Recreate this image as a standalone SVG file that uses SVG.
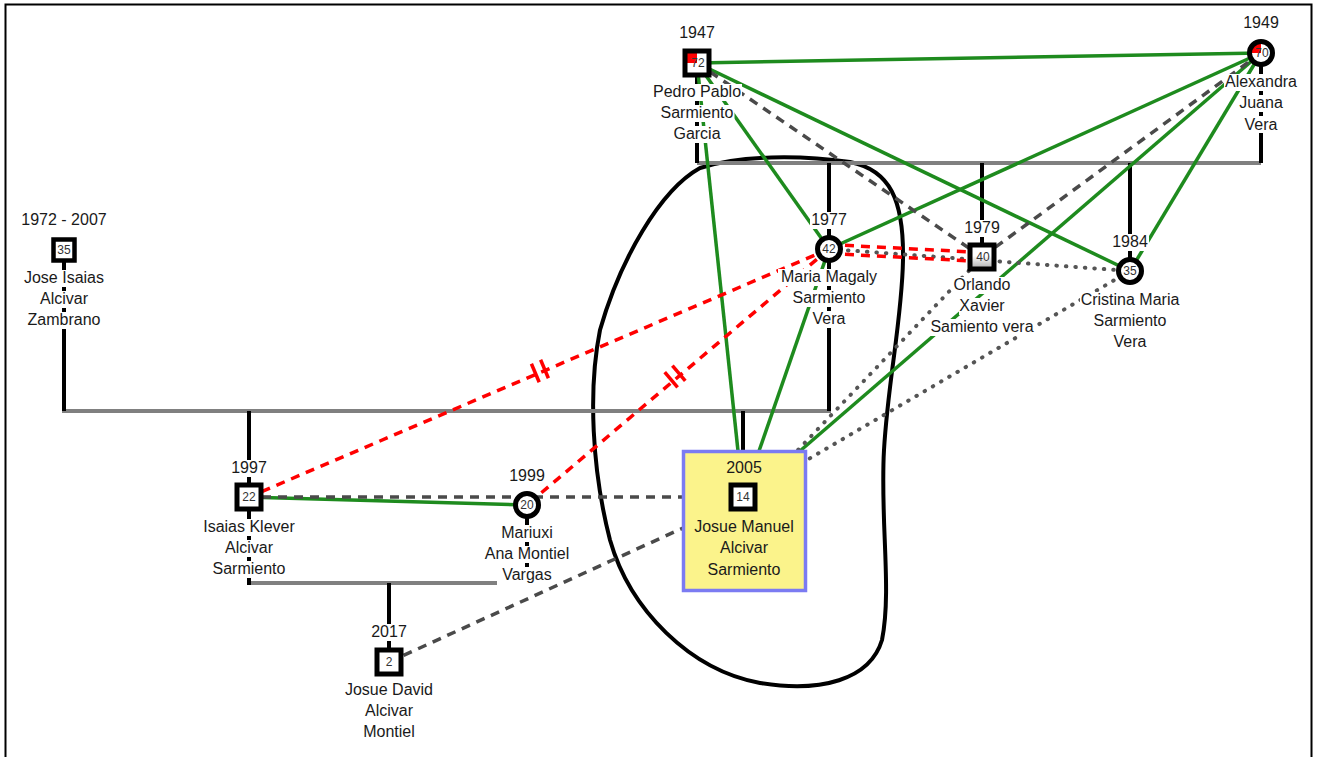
<svg xmlns="http://www.w3.org/2000/svg" width="1317" height="757" viewBox="0 0 1317 757">
<style>
text{font-family:"Liberation Sans",Arial,sans-serif;font-size:16px;fill:#1a1a1a;text-anchor:middle}
.num{font-size:12px;fill:#333}
.fam{stroke:#808080;stroke-width:4;fill:none}
.vl{stroke:#000;stroke-width:4;fill:none}
.g{stroke:#1e8b1e;stroke-width:3.5;fill:none}
.dash{stroke:#4a4a4a;stroke-width:3.5;stroke-dasharray:9 7;fill:none}
.dot{stroke:#555;stroke-width:4;stroke-dasharray:0.5 9;stroke-linecap:round;fill:none}
.red{stroke:#ff0000;stroke-width:3.5;stroke-dasharray:9 7;fill:none}
.brk{stroke:#ff0000;stroke-width:3.5;fill:none}
.bg{fill:#fff}
.sq{stroke:#000;stroke-width:5}
.ci{stroke:#000;stroke-width:5}
</style>
<defs>
<linearGradient id="grayfill" x1="0" y1="0" x2="0" y2="1">
<stop offset="0" stop-color="#fff"/><stop offset="0.45" stop-color="#fff"/><stop offset="1" stop-color="#aaa"/>
</linearGradient>
</defs>
<rect x="5.5" y="4.5" width="1306" height="800" fill="#fff" stroke="#000" stroke-width="2"/>

<path d="M700,168 C660,190 620,260 600,330 C588,390 592,470 610,540 C630,610 690,670 760,683 C820,693 870,680 882,640 C892,590 880,520 884,450 C888,380 902,320 903,260 C904,200 890,170 850,162 C800,155 740,155 700,168 Z" fill="none" stroke="#000" stroke-width="4"/>

<g id="connectors">
<line class="fam" x1="697" y1="163" x2="1261" y2="163"/>
<line class="vl" x1="697" y1="63" x2="697" y2="163"/>
<line class="vl" x1="1261" y1="53" x2="1261" y2="163"/>
<line class="vl" x1="829" y1="163" x2="829" y2="249"/>
<line class="vl" x1="982" y1="163" x2="982" y2="257"/>
<line class="vl" x1="1130" y1="163" x2="1130" y2="271"/>
<line class="fam" x1="62" y1="411" x2="831" y2="411"/>
<line class="vl" x1="64" y1="250" x2="64" y2="411"/>
<line class="vl" x1="829" y1="249" x2="829" y2="411"/>
<line class="vl" x1="249" y1="411" x2="249" y2="497"/>
<line class="vl" x1="743" y1="411" x2="743" y2="451"/>
<line class="fam" x1="247" y1="583" x2="497" y2="583"/>
<line class="vl" x1="249" y1="497" x2="249" y2="585"/>
<line class="vl" x1="527" y1="505" x2="527" y2="572"/>
<line class="vl" x1="389" y1="583" x2="389" y2="662"/>

<line class="g" x1="697" y1="63" x2="1261" y2="53"/>
<line class="g" x1="697" y1="63" x2="1130" y2="271"/>
<line class="g" x1="697" y1="63" x2="829" y2="249"/>
<line class="g" x1="697" y1="63" x2="738" y2="451"/>
<line class="g" x1="1261" y1="53" x2="829" y2="249"/>
<line class="g" x1="1261" y1="53" x2="800" y2="451"/>
<line class="g" x1="1261" y1="53" x2="1130" y2="271"/>
<line class="g" x1="829" y1="249" x2="759" y2="451"/>
<line class="g" x1="249" y1="497" x2="527" y2="505"/>

<line class="dash" x1="697" y1="63" x2="982" y2="257"/>
<line class="dash" x1="1261" y1="53" x2="982" y2="257"/>
<line class="dash" x1="262" y1="497" x2="683" y2="497"/>
<line class="dash" x1="389" y1="662" x2="683" y2="528"/>

<line class="dot" x1="829" y1="249" x2="1130" y2="271"/>
<line class="dot" x1="982" y1="257" x2="797" y2="451"/>
<line class="dot" x1="1130" y1="271" x2="807" y2="460"/>

<line class="red" x1="829" y1="244.5" x2="982" y2="252.5"/>
<line class="red" x1="829" y1="253.5" x2="982" y2="261.5"/>
<line class="red" x1="829" y1="249" x2="249" y2="497"/>
<line class="red" x1="829" y1="249" x2="527" y2="505"/>
<line class="brk" x1="531.4" y1="363.8" x2="539.2" y2="382.2"/>
<line class="brk" x1="540.6" y1="359.8" x2="548.4" y2="378.2"/>
<line class="brk" x1="664.7" y1="372.1" x2="677.6" y2="387.3"/>
<line class="brk" x1="672.4" y1="365.6" x2="685.3" y2="380.8"/>
</g>

<g id="n1947">
<rect class="bg" x="678" y="25" width="38" height="17"/>
<rect class="bg" x="652" y="84" width="90" height="17"/>
<rect class="bg" x="659.5" y="105" width="75" height="17"/>
<rect class="bg" x="672" y="126" width="50" height="17"/>
<text x="697" y="38">1947</text>
<rect x="685" y="51" width="24" height="24" fill="#fff"/>
<rect x="685" y="51" width="12" height="12" fill="#ff0000"/>
<rect class="sq" x="685" y="51" width="24" height="24" style="fill:none"/>
<text class="num" x="698" y="67">72</text>
<text x="697" y="97">Pedro Pablo</text>
<text x="697" y="118">Sarmiento</text>
<text x="697" y="139">Garcia</text>
</g>

<g id="n1949">
<rect class="bg" x="1242" y="15" width="38" height="17"/>
<rect class="bg" x="1224" y="74" width="74" height="17"/>
<rect class="bg" x="1238" y="95" width="46" height="17"/>
<rect class="bg" x="1243" y="116" width="36" height="17"/>
<text x="1261" y="28">1949</text>
<circle cx="1261" cy="53" r="11.5" fill="#fff"/>
<path d="M1261,53 L1249.5,53 A11.5,11.5 0 0 1 1261,41.5 Z" fill="#ff0000"/>
<circle class="ci" cx="1261" cy="53" r="11.5" style="fill:none"/>
<text class="num" x="1262" y="57">70</text>
<text x="1261" y="87">Alexandra</text>
<text x="1261" y="108">Juana</text>
<text x="1261" y="130">Vera</text>
</g>

<g id="n1977">
<rect class="bg" x="810" y="212" width="38" height="17"/>
<rect class="bg" x="778" y="269" width="102" height="17"/>
<rect class="bg" x="792" y="290" width="75" height="17"/>
<rect class="bg" x="811" y="311" width="36" height="17"/>
<text x="829" y="225">1977</text>
<circle class="ci" cx="829" cy="249" r="11.5" style="fill:#fff"/>
<text class="num" x="829" y="253">42</text>
<text x="829" y="282">Maria  Magaly</text>
<text x="829" y="303">Sarmiento</text>
<text x="829" y="324">Vera</text>
</g>

<g id="n1979">
<rect class="bg" x="963" y="220" width="38" height="17"/>
<rect class="bg" x="953" y="277" width="59" height="17"/>
<rect class="bg" x="959" y="298" width="47" height="17"/>
<rect class="bg" x="930" y="319" width="105" height="17"/>
<text x="982" y="233">1979</text>
<rect class="sq" x="970" y="245" width="24" height="24" style="fill:url(#grayfill)"/>
<text class="num" x="983" y="261">40</text>
<text x="982" y="290">Orlando</text>
<text x="982" y="311">Xavier</text>
<text x="982" y="332">Samiento vera</text>
</g>

<g id="n1984">
<rect class="bg" x="1111" y="234" width="38" height="17"/>
<rect class="bg" x="1080" y="292" width="101" height="17"/>
<rect class="bg" x="1093" y="313" width="75" height="17"/>
<rect class="bg" x="1113" y="334" width="36" height="17"/>
<text x="1130" y="247">1984</text>
<circle class="ci" cx="1130" cy="271" r="11.5" style="fill:#fff"/>
<text class="num" x="1130" y="275">35</text>
<text x="1130" y="305">Cristina Maria</text>
<text x="1130" y="326">Sarmiento</text>
<text x="1130" y="347">Vera</text>
</g>

<g id="n1972">
<rect class="bg" x="20" y="212" width="88" height="17"/>
<rect class="bg" x="21" y="270" width="87" height="17"/>
<rect class="bg" x="39" y="291" width="50" height="17"/>
<rect class="bg" x="27" y="312" width="75" height="17"/>
<text x="64" y="225">1972 - 2007</text>
<rect class="sq" x="53.5" y="239.5" width="21" height="21" style="fill:#fff;stroke-width:4.5"/>
<text class="num" x="64" y="254">35</text>
<text x="64" y="283">Jose  Isaias</text>
<text x="64" y="304">Alcivar</text>
<text x="64" y="325">Zambrano</text>
</g>

<g id="n1997">
<rect class="bg" x="230" y="460" width="38" height="17"/>
<rect class="bg" x="203" y="519" width="94" height="17"/>
<rect class="bg" x="225" y="540" width="50" height="17"/>
<rect class="bg" x="212" y="561" width="75" height="17"/>
<text x="249" y="473">1997</text>
<rect class="sq" x="237" y="485" width="24" height="24" style="fill:#fff"/>
<text class="num" x="249" y="501">22</text>
<text x="249" y="532">Isaias Klever</text>
<text x="249" y="553">Alcivar</text>
<text x="249" y="574">Sarmiento</text>
</g>

<g id="n1999">
<rect class="bg" x="508" y="468" width="38" height="17"/>
<rect class="bg" x="500" y="525" width="54" height="17"/>
<rect class="bg" x="484" y="546" width="87" height="17"/>
<rect class="bg" x="501" y="567" width="53" height="17"/>
<text x="527" y="481">1999</text>
<circle class="ci" cx="527" cy="505" r="11.5" style="fill:#fff"/>
<text class="num" x="527" y="509">20</text>
<text x="527" y="538">Mariuxi</text>
<text x="527" y="559">Ana Montiel</text>
<text x="527" y="580">Vargas</text>
</g>

<g id="n2005">
<rect x="683.5" y="451.5" width="122" height="139" fill="#fbf38b" stroke="#7b7bf2" stroke-width="3.5"/>
<text x="744" y="473">2005</text>
<rect class="sq" x="731" y="485" width="24" height="24" style="fill:#fff"/>
<text class="num" x="743" y="501">14</text>
<text x="744" y="532">Josue Manuel</text>
<text x="744" y="553">Alcivar</text>
<text x="744" y="575">Sarmiento</text>
</g>

<g id="n2017">
<rect class="bg" x="370" y="624" width="38" height="17"/>
<rect class="bg" x="344" y="682" width="90" height="17"/>
<rect class="bg" x="364" y="703" width="50" height="17"/>
<rect class="bg" x="363" y="724" width="53" height="17"/>
<text x="389" y="637">2017</text>
<rect class="sq" x="377" y="650" width="24" height="24" style="fill:#fff"/>
<text class="num" x="389" y="666">2</text>
<text x="389" y="695">Josue David</text>
<text x="389" y="716">Alcivar</text>
<text x="389" y="737">Montiel</text>
</g>
</svg>
